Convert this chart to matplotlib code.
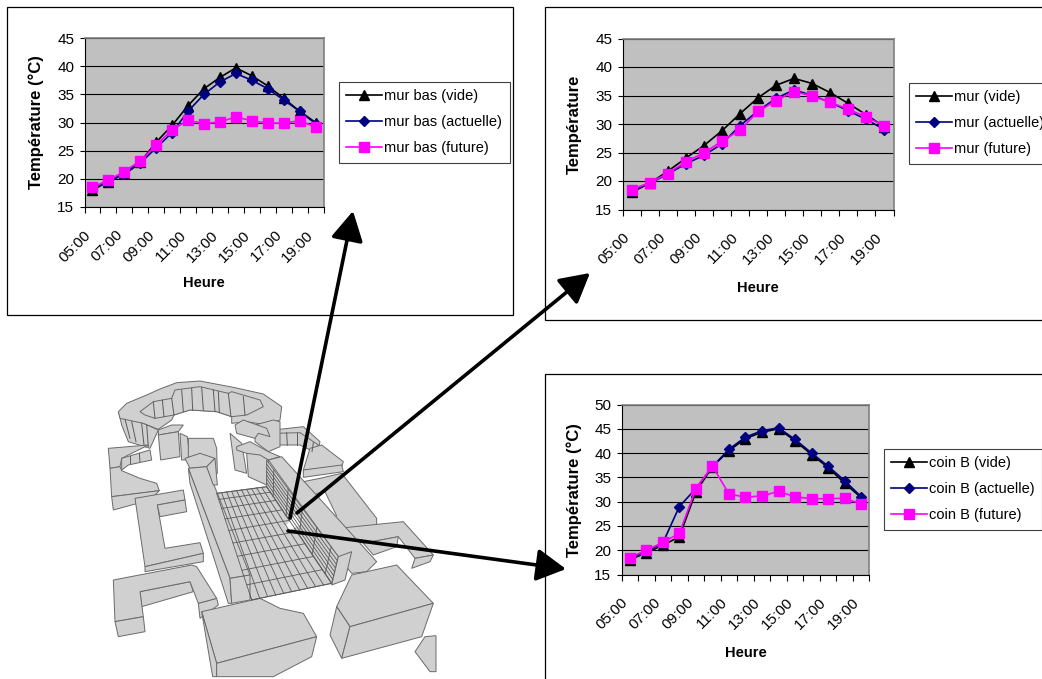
"""Three temperature charts pointing at spots on a 3D block model of the site."""

import numpy as np
import matplotlib
matplotlib.use('Agg')
import matplotlib.pyplot as plt
from matplotlib.patches import Polygon, Rectangle, FancyArrowPatch
from matplotlib.transforms import ScaledTranslation

plt.rcParams['font.family'] = ['Liberation Sans', 'DejaVu Sans']

W, H = 1042, 679

# hours on the x axis, one label every two categories
heures = ['05:00', '06:00', '07:00', '08:00', '09:00', '10:00', '11:00', '12:00',
          '13:00', '14:00', '15:00', '16:00', '17:00', '18:00', '19:00']

mur_bas_vide = [18, 19.5, 21, 23, 26.5, 29.5, 33, 36, 38, 39.7, 38.3, 36.5, 34.3, 32, 30]
mur_bas_actuelle = [18.3, 19.5, 20.8, 22.8, 25.5, 28.2, 32, 35, 37.2, 38.7, 37.5, 36, 34, 32, 29.8]
mur_bas_future = [18.5, 19.8, 21.3, 23.2, 26, 28.7, 30.4, 29.8, 30.1, 31, 30.3, 29.9, 29.9, 30.3, 29.2]

mur_vide = [18, 19.6, 21.7, 24, 26.2, 28.8, 31.8, 34.6, 36.8, 38, 37.1, 35.5, 33.6, 31.6, 29.5]
mur_actuelle = [18.2, 19.6, 21.2, 23, 24.5, 26.5, 29.7, 32.3, 34.5, 36, 35, 33.8, 32.3, 30.8, 29]
mur_future = [18.5, 19.7, 21.3, 23.4, 24.9, 27, 28.9, 32.2, 34.1, 35.7, 34.9, 33.8, 32.6, 31.2, 29.7]

coin_vide = [18, 19.5, 21, 22.8, 32, 37.2, 40.5, 43, 44.3, 45, 42.5, 39.7, 37, 33.8, 30.8]
coin_actuelle = [18.3, 19.8, 21.5, 29, 32.7, 37.2, 40.8, 43.3, 44.6, 45.2, 42.8, 40, 37.3, 34.3, 31]
coin_future = [18.5, 20, 21.6, 23.5, 32.7, 37.3, 31.6, 30.9, 31.2, 32.1, 31, 30.6, 30.6, 30.7, 29.5]

# block model faces, back to front, in pixels of a 340 x 309 drawing scaled by 3
faces_fond = [
    # gear ring: outer wall, top, inner wall
    [(57, 130), (65, 165), (85, 215), (150, 235), (175, 180), (130, 160)],
    [(55, 125), (80, 100), (140, 75), (180, 57), (230, 38), (300, 33), (400, 52), (490, 72), (545, 110), (540, 150),
     (500, 165), (440, 155), (395, 160), (395, 140), (350, 125), (270, 120), (222, 135), (215, 150), (175, 178),
     (130, 160), (60, 145)],
    [(120, 125), (160, 95), (215, 85), (225, 60), (300, 50), (385, 70), (395, 65), (480, 90), (490, 110), (440, 135),
     (395, 140), (350, 125), (270, 120), (222, 135), (165, 145), (135, 135)],
    # top right arc
    [(520, 180), (610, 170), (660, 215), (655, 235), (600, 190), (522, 192)],
    [(520, 190), (600, 188), (655, 225), (650, 250), (600, 225), (527, 225)],
    [(630, 235), (665, 225), (730, 275), (725, 290), (610, 300)],
    [(610, 300), (725, 285), (730, 305), (610, 322)],
    # top left arc
    [(25, 235), (145, 225), (65, 265), (60, 290), (30, 295)],
    [(65, 265), (150, 240), (155, 270), (85, 285), (65, 300)],
    [(30, 295), (60, 290), (65, 302), (120, 325), (170, 340), (178, 362), (35, 380)],
    [(35, 380), (178, 362), (150, 390), (40, 420)],
    # left E block
    [(105, 385), (250, 360), (255, 390), (172, 405), (195, 535), (300, 518), (310, 550), (135, 590)],
    [(172, 405), (255, 390), (260, 425), (180, 440)],
    [(135, 590), (310, 550), (310, 575), (135, 605)],
    # left U block
    [(120, 665), (270, 635), (280, 665), (125, 710)],
    [(295, 700), (350, 685), (355, 705), (300, 745)],
    [(40, 630), (275, 585), (290, 590), (350, 685), (295, 700), (270, 635), (120, 665), (130, 740), (45, 755)],
    [(45, 755), (130, 740), (135, 785), (55, 800)],
    # right loop and its extension
    [(610, 335), (660, 325), (725, 310), (830, 445), (830, 470), (720, 490), (690, 445), (640, 380)],
    [(715, 475), (910, 455), (1000, 555), (945, 565), (895, 500), (790, 520), (730, 495)],
    [(790, 520), (895, 500), (890, 530), (820, 555)],
    [(945, 565), (1000, 555), (990, 575), (935, 595)],
]
fente = [(650, 370), (675, 365), (710, 438), (680, 442)]
sol = [(350, 370), (500, 350), (695, 640), (455, 690)]
entaille = [(555, 470), (590, 430), (600, 465), (570, 480)]
# blocks in front of the courtyard
faces_avant = [
    [(175, 180), (215, 165), (250, 165), (235, 185), (175, 195)],
    [(175, 195), (235, 185), (240, 260), (182, 270)],
    [(240, 190), (262, 200), (270, 270), (245, 270)],
    [(265, 205), (340, 205), (350, 235), (352, 310), (330, 320), (300, 270), (265, 260)],
    [(390, 190), (425, 220), (440, 310), (405, 300)],
    [(465, 165), (520, 150), (540, 155), (540, 230), (505, 245), (465, 215)],
    [(405, 165), (430, 150), (500, 175), (510, 200), (475, 190), (465, 205), (410, 190)],
    [(410, 230), (450, 215), (505, 245), (540, 260), (505, 270), (440, 250), (410, 240)],
    [(440, 250), (480, 255), (505, 270), (500, 345), (445, 320)],
    [(505, 270), (545, 260), (830, 575), (800, 605), (755, 610), (715, 560)],
    [(500, 270), (715, 560), (695, 640), (500, 350)],
    [(715, 560), (755, 545), (735, 630), (695, 645)],
    [(255, 265), (300, 250), (345, 265), (320, 290), (270, 295)],
    [(265, 295), (320, 290), (450, 615), (390, 625)],
    [(265, 295), (270, 340), (385, 700), (395, 700), (390, 625)],
    [(320, 290), (345, 265), (352, 345), (340, 345)],
    [(390, 625), (450, 615), (450, 690), (395, 700)],
    [(305, 725), (480, 685), (540, 715), (610, 730), (650, 800), (350, 880)],
    [(305, 725), (350, 880), (350, 920), (338, 920)],
    [(350, 880), (650, 800), (635, 860), (520, 920), (350, 920)],
    [(755, 615), (890, 585), (1000, 700), (750, 770), (710, 710)],
    [(710, 710), (750, 770), (725, 865), (690, 795)],
    [(750, 770), (1000, 700), (965, 800), (725, 865)],
    [(945, 845), (975, 800), (1008, 797), (1008, 905), (990, 905)],
]
# vertical joints on the curved walls
joints = [
    [(75, 148), (90, 205)], [(95, 155), (108, 215)], [(125, 160), (132, 225)], [(140, 165), (145, 230)],
    [(160, 97), (165, 145)], [(187, 90), (192, 140)], [(215, 85), (222, 135)], [(245, 60), (250, 125)],
    [(275, 55), (278, 120)], [(305, 52), (310, 120)], [(340, 60), (345, 125)], [(355, 65), (358, 128)],
    [(385, 70), (393, 140)], [(430, 80), (435, 135)], [(560, 188), (562, 226)], [(590, 188), (590, 225)],
    [(620, 205), (618, 235)], [(640, 218), (636, 245)], [(90, 280), (90, 258)], [(118, 250), (120, 275)],
]


def ax_px(left, top, right, bottom):
    # axes from pixel box, y measured from the top of the image
    return fig.add_axes([left / W, 1 - bottom / H, (right - left) / W, (bottom - top) / H])


def model_px(pts):
    return [(100 + px / 3, 370 + py / 3) for px, py in pts]


def draw_face(pts, color='#d0d0d0'):
    bg.add_patch(Polygon(model_px(pts), closed=True, fc=color, ec='#6a6a6a', lw=0.7))


def draw_chart(box, y_max, series, names, ylabel, ylabel_xy, xlabel_xy, legend_xy):
    ax = ax_px(*box)
    x = np.arange(len(heures))
    ax.set_facecolor('#c0c0c0')
    ax.plot(x, series[0], color='black', lw=1.2, marker='^', ms=7.5, label=names[0], clip_on=False)
    ax.plot(x, series[1], color='#000080', lw=1.2, marker='D', ms=5.5, label=names[1], clip_on=False)
    ax.plot(x, series[2], color='#ff00ff', lw=1.2, marker='s', ms=7.5, label=names[2], clip_on=False)
    ax.set_xlim(-0.5, 14.5)
    ax.set_ylim(15, y_max)
    ax.set_yticks(np.arange(15, y_max + 1, 5))
    ax.grid(axis='y', color='black', lw=0.8)
    ax.set_axisbelow(True)
    ax.set_xticks(np.arange(-0.5, 15, 1))
    ax.set_xticklabels([])
    ax.set_xticks(x[::2], heures[::2], minor=True, rotation=45, ha='right', rotation_mode='anchor')
    ax.tick_params(axis='x', which='major', length=4, width=0.8)
    ax.tick_params(axis='x', which='minor', length=0, pad=15, labelsize=11)
    ax.tick_params(axis='y', length=3.3, width=0.8, pad=4, labelsize=11)
    # labels sit left of their category in the original
    shift = ScaledTranslation(-9 / 100, 0, fig.dpi_scale_trans)
    for lab in ax.xaxis.get_minorticklabels():
        lab.set_transform(lab.get_transform() + shift)
    for side in ['top', 'right']:
        ax.spines[side].set_color('#808080')
        ax.spines[side].set_linewidth(1.2)
    for side in ['left', 'bottom']:
        ax.spines[side].set_linewidth(0.8)
    fig.text(ylabel_xy[0] / W, 1 - ylabel_xy[1] / H, ylabel, rotation=90, ha='center', va='center',
             fontsize=12, fontweight='bold')
    fig.text(xlabel_xy[0] / W, 1 - xlabel_xy[1] / H, 'Heure', ha='center', va='center',
             fontsize=10.5, fontweight='bold')
    leg = ax.legend(loc='upper left', bbox_to_anchor=(legend_xy[0] / W, 1 - legend_xy[1] / H),
                    bbox_transform=fig.transFigure, fontsize=10.5, frameon=True, fancybox=False, framealpha=1,
                    edgecolor='#404040', borderaxespad=0, borderpad=0.5, labelspacing=0.82,
                    handlelength=2.45, handletextpad=0.2)
    leg.get_frame().set_linewidth(0.8)
    return ax


fig = plt.figure(figsize=(W / 100, H / 100), dpi=100, facecolor='white')

# background layer: frames and block model
bg = fig.add_axes([0, 0, 1, 1])
bg.set_xlim(0, W)
bg.set_ylim(H, 0)
bg.axis('off')

for pts in faces_fond:
    draw_face(pts)
draw_face(fente, 'white')

# floor grid of the courtyard
draw_face(sol)
c = np.array(sol, dtype=float)
for t in np.linspace(0, 1, 11):
    a, b = c[0] + (c[1] - c[0]) * t, c[3] + (c[2] - c[3]) * t
    bg.plot(*zip(*model_px([a, b])), color='#5a5a5a', lw=0.6)
for t in np.linspace(0, 1, 10)**1.3:
    a, b = c[0] + (c[3] - c[0]) * t, c[1] + (c[2] - c[1]) * t
    bg.plot(*zip(*model_px([a, b])), color='#5a5a5a', lw=0.6)

for pts in faces_avant:
    draw_face(pts)

# bricks on the long right wall
w = np.array([(500, 270), (715, 560), (695, 640), (500, 350)], dtype=float)
for t in np.linspace(0.15, 0.85, 6):
    a, b = w[0] + (w[3] - w[0]) * t, w[1] + (w[2] - w[1]) * t
    bg.plot(*zip(*model_px([a, b])), color='#5a5a5a', lw=0.6)
for t in np.linspace(0.1, 0.9, 5):
    a, b = w[0] + (w[1] - w[0]) * t, w[3] + (w[2] - w[3]) * t
    bg.plot(*zip(*model_px([a, b])), color='#5a5a5a', lw=0.6)
for a, b in joints:
    bg.plot(*zip(*model_px([a, b])), color='#5a5a5a', lw=0.7)
bg.add_patch(Polygon(model_px(entaille), closed=True, fc='white', ec='none'))

for x0, y0, x1, y1 in [(7, 7, 513, 315), (545, 7, W + 5, 320), (545, 374, W + 5, H + 5)]:
    bg.add_patch(Rectangle((x0, y0), x1 - x0, y1 - y0, fc='white', ec='black', lw=0.9, zorder=4))

draw_chart((84.5, 38, 323.5, 207), 45, [mur_bas_vide, mur_bas_actuelle, mur_bas_future],
           ['mur bas (vide)', 'mur bas (actuelle)', 'mur bas (future)'],
           'Température (°C)', (36, 122), (204, 283), (338.5, 82))
draw_chart((622.5, 38.5, 893.5, 209.5), 45, [mur_vide, mur_actuelle, mur_future],
           ['mur (vide)', 'mur (actuelle)', 'mur (future)'],
           'Température', (574, 124), (758, 288), (908.5, 83))
draw_chart((621.5, 404.5, 869.5, 574.5), 50, [coin_vide, coin_actuelle, coin_future],
           ['coin B (vide)', 'coin B (actuelle)', 'coin B (future)'],
           'Température (°C)', (574, 490), (746, 653), (883.5, 449))

# arrows from the model to the charts, above everything
top = fig.add_axes([0, 0, 1, 1], zorder=10)
top.set_xlim(0, W)
top.set_ylim(H, 0)
top.axis('off')
for start, tip in [((290, 518), (353, 211)), ((297, 513), (590, 273)), ((288, 531), (566, 569))]:
    top.add_patch(FancyArrowPatch(start, tip, arrowstyle='-|>,head_length=1.0,head_width=0.55', mutation_scale=18,
                                  lw=2.6, color='black', shrinkA=0, shrinkB=0))

fig.savefig('out.png', dpi=100)
